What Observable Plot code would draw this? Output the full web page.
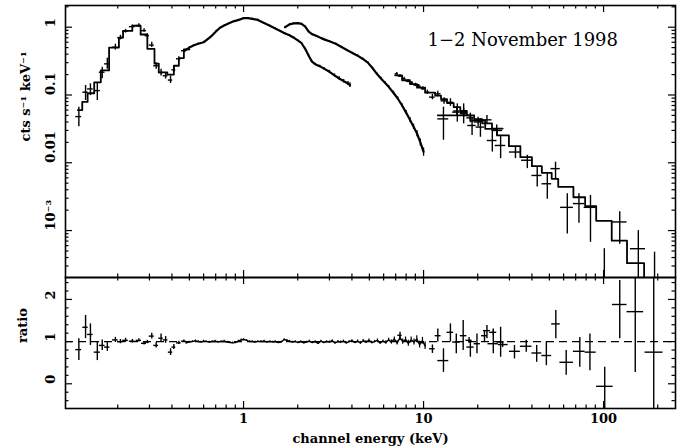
<!DOCTYPE html>
<html><head><meta charset="utf-8">
<script src="https://cdn.jsdelivr.net/npm/d3@7"></script>
<script src="https://cdn.jsdelivr.net/npm/@observablehq/plot@0.6"></script>
<style>
body{margin:0;background:#fff;}
#chart{position:relative;width:685px;height:448px;overflow:hidden;background:#fff;}
#chart svg{position:absolute;left:0;}
</style></head><body><div id="chart"></div>
<script>
// ---------------- DATA ----------------
const titleText = "1\u22122 November 1998";
const yTitleTop = "cts s\u207B\u00B9 keV\u207B\u00B9";
const yTitleBottom = "ratio";
const xTitle = "channel energy (keV)";

const xTickLabelValues = [1, 10, 100];
const xTickLabels = ["1", "10", "100"];
const xMajorTicks = [1, 10, 100];
const xMinorTicks = [0.2,0.3,0.4,0.5,0.6,0.7,0.8,0.9,2,3,4,5,6,7,8,9,20,30,40,50,60,70,80,90,200];
const yTopTickValues = [0.001, 0.01, 0.1, 1];
const yTopTickLabels = ["10\u207B\u00B3", "0.01", "0.1", "1"];
const yTopMinorTicks = [3e-4,4e-4,5e-4,6e-4,7e-4,8e-4,9e-4,2e-3,3e-3,4e-3,5e-3,6e-3,7e-3,8e-3,9e-3,0.02,0.03,0.04,0.05,0.06,0.07,0.08,0.09,0.2,0.3,0.4,0.5,0.6,0.7,0.8,0.9,2];
const yRatioTickValues = [0, 1, 2];
const yRatioTickLabels = ["0", "1", "2"];
const yRatioMinorTicks = [-0.4,-0.2,0.2,0.4,0.6,0.8,1.2,1.4,1.6,1.8,2.2,2.4];

// LECS binned points
const lecsE   = [0.1216,0.1325,0.141,0.154,0.164,0.175,0.194,0.207,0.221,0.241,0.262,0.280,0.292,0.309,0.327,0.348,0.369,0.393,0.410,0.437,0.466];
const lecsELo = [0.117,0.128,0.136,0.148,0.158,0.169,0.187,0.200,0.213,0.232,0.253,0.271,0.284,0.299,0.317,0.338,0.358,0.382,0.400,0.424,0.452];
const lecsEHi = [0.126,0.137,0.146,0.160,0.170,0.181,0.201,0.214,0.229,0.250,0.271,0.289,0.300,0.319,0.337,0.358,0.380,0.404,0.420,0.450,0.480];
const lecsF   = [0.048,0.110,0.123,0.116,0.217,0.288,0.507,0.70,0.873,1.02,1.06,0.89,0.75,0.545,0.27,0.215,0.192,0.166,0.235,0.342,0.45];
const lecsFLo = [0.034,0.083,0.098,0.083,0.173,0.24,0.46,0.65,0.82,0.97,1.0,0.84,0.70,0.50,0.24,0.19,0.172,0.148,0.215,0.32,0.43];
const lecsFHi = [0.066,0.138,0.146,0.150,0.257,0.35,0.56,0.76,0.93,1.08,1.12,0.95,0.80,0.60,0.30,0.24,0.214,0.19,0.26,0.365,0.47];
const lecsRatio   = [0.81,1.34,1.17,0.75,0.91,0.87,1.04,1.00,1.03,1.01,1.03,0.96,0.99,1.13,0.91,1.08,1.04,0.75,0.87,0.97,1.01];
const lecsRatioLo = [0.55,1.07,0.91,0.55,0.79,0.77,0.98,0.95,0.98,0.97,0.99,0.92,0.95,1.06,0.85,0.98,0.96,0.67,0.81,0.93,0.98];
const lecsRatioHi = [1.07,1.62,1.42,1.00,1.04,0.99,1.10,1.05,1.08,1.05,1.07,1.00,1.03,1.20,0.98,1.18,1.12,0.83,0.93,1.01,1.04];

// LECS model (bin edges, values) - visible part below 0.5 keV
const lecsModelEdges = [0.120,0.127,0.136,0.148,0.161,0.179,0.203,0.214,0.241,0.268,0.292,0.320,0.338,0.377,0.410,0.437,0.466,0.50];
const lecsModelF = [0.060,0.079,0.106,0.154,0.23,0.50,0.70,0.88,1.05,0.78,0.48,0.29,0.215,0.20,0.27,0.35,0.47];

// LECS dense data (0.47-3.9 keV)
const lecsLineE = [0.47,0.50,0.53,0.56,0.60,0.63,0.66,0.70,0.74,0.78,0.83,0.88,0.94,1.00,1.06,1.12,1.20,1.30,1.40,1.50,1.60,1.70,1.80,1.90,2.00,2.10,2.20,2.30,2.40,2.50,2.65,2.80,3.00,3.20,3.40,3.60,3.80,3.90];
const lecsLineF = [0.45,0.50,0.54,0.57,0.60,0.66,0.73,0.86,0.98,1.06,1.14,1.22,1.28,1.36,1.36,1.33,1.28,1.15,1.05,0.96,0.88,0.81,0.76,0.70,0.64,0.58,0.48,0.38,0.31,0.285,0.265,0.245,0.22,0.195,0.175,0.16,0.148,0.14];
const lecsLineErr = [0.03,0.03,0.03,0.03,0.03,0.03,0.02,0.02,0.02,0.02,0.02,0.02,0.02,0.02,0.02,0.02,0.02,0.02,0.02,0.02,0.02,0.02,0.02,0.02,0.02,0.02,0.03,0.03,0.03,0.03,0.04,0.04,0.05,0.05,0.06,0.06,0.07,0.08];

// MECS dense data (1.7-10 keV)
const mecsE = [1.70,1.80,1.90,2.00,2.10,2.20,2.30,2.40,2.55,2.70,2.85,3.00,3.25,3.50,3.75,4.00,4.30,4.60,4.90,5.20,5.50,5.80,6.10,6.40,6.80,7.20,7.60,8.00,8.40,8.80,9.20,9.60,10.0];
const mecsF = [1.00,1.10,1.14,1.15,1.12,1.02,0.86,0.79,0.74,0.69,0.65,0.62,0.57,0.51,0.46,0.42,0.38,0.34,0.30,0.25,0.205,0.175,0.152,0.132,0.108,0.088,0.070,0.055,0.043,0.034,0.027,0.020,0.0145];
const mecsErr = [0.02,0.02,0.02,0.02,0.02,0.02,0.02,0.02,0.02,0.02,0.02,0.02,0.02,0.02,0.02,0.02,0.03,0.03,0.03,0.03,0.04,0.04,0.04,0.05,0.05,0.06,0.06,0.07,0.08,0.09,0.10,0.12,0.14];

// HPGSPC points
const hpgE   = [7.1,7.4,7.8,8.2,8.6,9.0,9.4,9.9,10.5,11.2,12.0,13.0,14.1,15.3,16.7,18.2,20.1,22.5,25.5];
const hpgELo = [6.95,7.25,7.6,8.0,8.4,8.8,9.2,9.7,10.2,10.8,11.6,12.5,13.5,14.7,16.0,17.4,19.1,21.2,24.0];
const hpgEHi = [7.25,7.6,8.0,8.4,8.8,9.2,9.7,10.2,10.8,11.6,12.5,13.5,14.7,16.0,17.4,19.1,21.2,24.0,27.5];
const hpgF   = [0.205,0.190,0.174,0.160,0.150,0.141,0.135,0.124,0.110,0.093,0.104,0.082,0.078,0.058,0.055,0.046,0.040,0.043,0.030];
const hpgFLo = [0.195,0.181,0.166,0.152,0.142,0.133,0.127,0.116,0.102,0.085,0.094,0.073,0.068,0.050,0.047,0.039,0.034,0.037,0.025];
const hpgFHi = [0.215,0.199,0.182,0.168,0.158,0.149,0.143,0.132,0.118,0.102,0.114,0.091,0.088,0.067,0.064,0.054,0.047,0.050,0.036];
const hpgModelEdges = [6.95,7.6,8.4,9.2,10.2,11.6,12.5,13.5,14.7,16.0,17.4,19.1,21.2,24.0,27.5];
const hpgModelF = [0.195,0.165,0.145,0.128,0.108,0.098,0.087,0.076,0.066,0.058,0.050,0.044,0.038,0.032];

// PDS points
const pdsE   = [12.9,15.4,16.7,18.6,20.7,24.1,26.8,32.4,37.7,42.8,48.7,54.1,62.9,73.0,84.6,101,123,156,192];
const pdsELo = [12.0,14.5,16.0,17.6,19.6,22.6,25.0,30.0,35.0,40.0,45.5,51.0,57.7,68.0,78.0,91.0,112,141,171];
const pdsEHi = [13.8,16.0,17.5,19.6,21.8,25.6,28.6,35.0,40.5,45.5,51.5,57.5,68.0,78.5,91.0,112,135,171,214];
const pdsF   = [0.0444,0.0558,0.0528,0.0355,0.0336,0.0213,0.018,0.0144,0.0109,0.0065,0.0049,0.0082,0.0022,0.0025,0.0022,null,0.00134,0.00054,0.00011];
const pdsFLo = [0.0215,0.0398,0.0375,0.0253,0.0238,0.0144,0.0115,0.0115,0.0082,0.0044,0.0029,0.0058,0.00089,0.00128,0.00067,0.00001,0.00063,0.00018,0.00001];
const pdsFHi = [0.066,0.074,0.074,0.047,0.0447,0.030,0.0253,0.0169,0.0129,0.0086,0.0069,0.0102,0.0035,0.0035,0.0033,0.00054,0.0019,0.0010,0.00048];
const pdsModelEdges = [12.0,18.2,22.0,25.6,29.8,34.5,40.0,45.4,51.5,56.0,68.0,79.0,91.0,111,135,168,214];
const pdsModelF = [0.050,0.042,0.0317,0.0253,0.0176,0.0121,0.0089,0.0071,0.0058,0.0044,0.0031,0.0023,0.00139,0.00071,0.00033,0.00015];

// Ratio: dense LECS+MECS region
const ratioLineE = [0.48,0.50,0.52,0.54,0.56,0.58,0.60,0.62,0.645,0.67,
  0.695,0.72,0.75,0.78,0.81,0.84,0.87,0.90,0.935,0.97,
  1.00,1.04,1.08,1.12,1.16,1.20,1.25,1.30,1.35,1.40,
  1.45,1.50,1.56,1.62,1.68,1.74,1.80,1.87,1.94,2.01,
  2.08,2.16,2.24,2.32,2.41,2.50,2.59,2.69,2.79,2.89,
  3.00,3.11,3.22,3.34,3.46,3.59,3.72,3.86,4.00,4.15,
  4.30,4.46,4.62,4.79,4.97,5.15,5.34,5.54,5.74,5.95,
  6.17,6.40,6.63,6.88,7.13,7.39,7.66,7.94,8.23,8.53,
  8.85,9.17,9.51,9.86,10.2];
const ratioLineR = [0.97,0.99,1.00,1.02,1.00,0.99,1.01,1.00,0.99,1.00,
  1.01,0.99,1.00,1.01,0.99,0.98,0.97,0.98,1.01,1.04,
  1.05,1.03,1.00,1.00,0.99,1.00,1.00,1.01,0.99,1.00,
  0.99,1.00,0.98,0.99,1.05,1.03,1.01,0.99,1.00,0.98,
  1.00,0.97,0.99,1.01,0.98,1.00,0.96,1.01,0.98,1.00,
  0.99,1.02,0.97,1.00,0.99,1.01,0.97,1.00,1.02,0.98,
  1.01,0.97,1.02,0.99,1.03,0.98,1.00,1.03,0.97,1.01,
  0.98,1.04,0.99,1.06,0.97,1.09,1.00,1.05,0.96,1.04,
  0.99,1.06,0.93,1.02,0.90];
const ratioLineErr = [0.02,0.02,0.02,0.02,0.02,0.02,0.02,0.02,0.02,0.02,
  0.02,0.02,0.02,0.02,0.02,0.02,0.02,0.02,0.02,0.02,
  0.02,0.02,0.02,0.02,0.02,0.02,0.02,0.02,0.02,0.02,
  0.02,0.02,0.02,0.02,0.02,0.02,0.02,0.02,0.02,0.02,
  0.02,0.02,0.02,0.02,0.02,0.02,0.02,0.02,0.02,0.02,
  0.025,0.025,0.025,0.025,0.025,0.025,0.025,0.025,0.025,0.025,
  0.03,0.03,0.03,0.03,0.03,0.03,0.03,0.03,0.03,0.03,
  0.04,0.04,0.05,0.05,0.05,0.06,0.06,0.06,0.07,0.07,
  0.07,0.08,0.08,0.08,0.09];

// Ratio: HPGSPC + PDS
const hiRatioE   = [7.4,11.2,12.0,12.9,14.1,15.2,16.6,17.9,18.2,19.8,21.8,22.5,24.4,24.4,26.8,27.5,32.0,37.2,42.5,48.1,54.3,62.0,73.8,84.0,101.5,123,150,190];
const hiRatioELo = [7.2,10.8,11.6,12.0,13.5,14.5,16.0,17.2,17.4,19.1,21.0,21.5,23.3,22.8,25.6,26.0,30.0,34.5,40.0,45.4,51.5,57.2,68.0,79.0,91.5,112,135,170];
const hiRatioEHi = [7.6,11.6,12.5,13.8,14.7,16.0,17.4,18.6,19.1,20.7,22.6,23.5,25.5,26.0,28.0,29.5,34.5,40.0,45.4,51.5,57.5,68.0,79.0,91.0,113,135,167,214];
const hiRatio    = [1.15,0.83,1.14,0.55,1.22,0.99,1.14,1.03,0.87,0.95,1.14,1.26,1.22,0.95,0.99,0.93,0.77,0.89,0.73,0.67,1.42,0.51,0.77,0.75,-0.06,1.88,1.71,0.75];
const hiRatioLo  = [1.08,0.72,0.99,0.27,0.99,0.71,0.79,0.96,0.63,0.71,0.99,1.07,1.14,0.71,0.63,0.86,0.59,0.75,0.51,0.43,1.07,0.20,0.39,0.31,-0.9,1.07,0.27,-0.9];
const hiRatioHi  = [1.22,0.92,1.30,0.83,1.42,1.18,1.50,1.10,1.03,1.18,1.26,1.38,1.30,1.26,1.34,1.00,0.91,1.03,0.91,0.99,1.74,0.79,1.10,1.18,0.39,2.45,3.0,3.0];

// ---------------- LAYOUT ----------------
const W = 685, ML = 65, MR = 10;
const FW = W - ML - MR;
const xDomain = [0.1025, 251];
const topH = 278, topMT = 5, topMB = 1, topFH = topH - topMT - topMB;
const botTop = 276, botH = 172, botMT = 1, botMB = 40, botFH = botH - botMT - botMB;
const FONT = "'DejaVu Serif', 'Liberation Serif', serif";

function crosses(E, ELo, EHi, V, VLo, VHi, sw) {
  const rows = E.map((e, i) => ({e, elo: ELo[i], ehi: EHi[i], v: V[i], vlo: VLo[i], vhi: VHi[i]}));
  return [
    Plot.ruleX(rows, {x: "e", y1: "vlo", y2: "vhi", strokeWidth: sw, clip: true}),
    Plot.ruleY(rows.filter(r => r.v != null), {y: "v", x1: "elo", x2: "ehi", strokeWidth: sw, clip: true})
  ];
}
function steps(edges, vals, sw) {
  const pts = edges.map((e, i) => ({x: e, y: vals[Math.min(i, vals.length - 1)]}));
  return Plot.line(pts, {x: "x", y: "y", curve: "step-after", strokeWidth: sw, clip: true});
}
function denseCurve(E, F, err, sw) {
  const rows = E.map((e, i) => ({e, f: F[i], lo: F[i] * (1 - err[i]), hi: F[i] * (1 + err[i])}));
  return [
    Plot.line(rows, {x: "e", y: "f", strokeWidth: sw, clip: true}),
    Plot.ruleX(rows, {x: "e", y1: "lo", y2: "hi", strokeWidth: 1.3, clip: true})
  ];
}
function frameTicks(yMajor, yMinor, fh) {
  const maj = 7, mnr = 3.5, sw = 1.2;
  return [
    Plot.tickX(xMajorTicks, {x: d => d, insetTop: fh - maj, strokeWidth: sw}),
    Plot.tickX(xMajorTicks, {x: d => d, insetBottom: fh - maj, strokeWidth: sw}),
    Plot.tickX(xMinorTicks, {x: d => d, insetTop: fh - mnr, strokeWidth: sw}),
    Plot.tickX(xMinorTicks, {x: d => d, insetBottom: fh - mnr, strokeWidth: sw}),
    Plot.tickY(yMajor, {y: d => d, insetRight: FW - maj, strokeWidth: sw}),
    Plot.tickY(yMajor, {y: d => d, insetLeft: FW - maj, strokeWidth: sw}),
    Plot.tickY(yMinor, {y: d => d, insetRight: FW - mnr, strokeWidth: sw}),
    Plot.tickY(yMinor, {y: d => d, insetLeft: FW - mnr, strokeWidth: sw})
  ];
}

const topPlot = Plot.plot({
  width: W, height: topH,
  marginLeft: ML, marginRight: MR, marginTop: topMT, marginBottom: topMB,
  style: {fontFamily: FONT, background: "transparent", overflow: "visible"},
  x: {type: "log", domain: xDomain, axis: null},
  y: {type: "log", domain: [2.03e-4, 2.09], axis: null},
  marks: [
    ...frameTicks(yTopTickValues, yTopMinorTicks, topFH),
    steps(lecsModelEdges, lecsModelF, 1.8),
    ...crosses(lecsE, lecsELo, lecsEHi, lecsF, lecsFLo, lecsFHi, 1.4),
    ...denseCurve(lecsLineE, lecsLineF, lecsLineErr, 2.2),
    ...denseCurve(mecsE, mecsF, mecsErr, 2.2),
    steps(hpgModelEdges, hpgModelF, 1.8),
    ...crosses(hpgE, hpgELo, hpgEHi, hpgF, hpgFLo, hpgFHi, 1.4),
    steps(pdsModelEdges, pdsModelF, 1.8),
    ...crosses(pdsE, pdsELo, pdsEHi, pdsF, pdsFLo, pdsFHi, 1.4),
    Plot.frame({strokeWidth: 1.6}),
    Plot.text(yTopTickValues, {y: d => d, text: (d, i) => yTopTickLabels[i], frameAnchor: "left", dx: -15, rotate: -90, fontSize: 13, fontWeight: "bold"}),
    Plot.text([yTitleTop], {text: d => d, frameAnchor: "left", dx: -40, rotate: -90, fontSize: 13, fontWeight: "bold"}),
    Plot.text([titleText], {text: d => d, frameAnchor: "top-left", dx: 362, dy: 28, textAnchor: "start", fontSize: 18})
  ]
});
topPlot.style.top = "0px";

const bottomPlot = Plot.plot({
  width: W, height: botH,
  marginLeft: ML, marginRight: MR, marginTop: botMT, marginBottom: botMB,
  style: {fontFamily: FONT, background: "transparent", overflow: "visible"},
  x: {type: "log", domain: xDomain, axis: null},
  y: {domain: [-0.586, 2.52], axis: null},
  marks: [
    ...frameTicks(yRatioTickValues, yRatioMinorTicks, botFH),
    Plot.ruleY([1], {strokeDasharray: "8,5", strokeWidth: 1.3}),
    ...crosses(lecsE, lecsELo, lecsEHi, lecsRatio, lecsRatioLo, lecsRatioHi, 1.4),
    Plot.line(ratioLineE.map((e, i) => ({e, r: ratioLineR[i]})), {x: "e", y: "r", strokeWidth: 1.5, clip: true}),
    Plot.ruleX(ratioLineE.map((e, i) => ({e, lo: ratioLineR[i] - ratioLineErr[i], hi: ratioLineR[i] + ratioLineErr[i]})), {x: "e", y1: "lo", y2: "hi", strokeWidth: 1.2, clip: true}),
    ...crosses(hiRatioE, hiRatioELo, hiRatioEHi, hiRatio, hiRatioLo, hiRatioHi, 1.4),
    Plot.frame({strokeWidth: 1.6}),
    Plot.text(yRatioTickValues, {y: d => d, text: (d, i) => yRatioTickLabels[i], frameAnchor: "left", dx: -15, rotate: -90, fontSize: 13, fontWeight: "bold"}),
    Plot.text([yTitleBottom], {text: d => d, frameAnchor: "left", dx: -43, rotate: -90, fontSize: 13, fontWeight: "bold"}),
    Plot.text(xTickLabelValues, {x: d => d, text: (d, i) => xTickLabels[i], frameAnchor: "bottom", dy: 14, fontSize: 13, fontWeight: "bold"}),
    Plot.text([xTitle], {text: d => d, frameAnchor: "bottom", dy: 34, fontSize: 13, fontWeight: "bold"})
  ]
});
bottomPlot.style.top = botTop + "px";

const chart = document.getElementById("chart");
chart.appendChild(topPlot);
chart.appendChild(bottomPlot);
</script>
</body></html>
